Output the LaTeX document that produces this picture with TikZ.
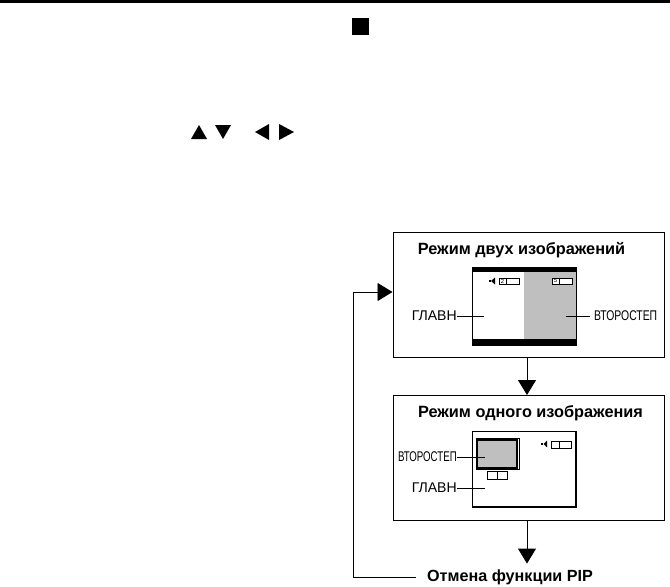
\documentclass[tikz,border=0pt]{standalone}
\usepackage{fontspec}
\setmainfont{Liberation Sans}
\newfontfamily\narrowfont[FakeStretch=0.74]{Liberation Sans}
\newfontfamily\narrowerfont[FakeStretch=0.69]{Liberation Sans}
\usetikzlibrary{arrows.meta}
\tikzset{
  modebox/.style={draw,line width=0.85pt,minimum width=8.13cm,minimum height=3.75cm,inner sep=0pt},
  titletext/.style={font=\fontsize{13.9}{16}\selectfont\bfseries,inner sep=0pt},
  partlabel/.style={font=\fontsize{12}{14}\selectfont,anchor=east,inner sep=0pt},
  narrowlabel/.style={font=\fontsize{12}{14}\selectfont\narrowfont,inner sep=0pt},
  narrowerlabel/.style={font=\fontsize{12}{14}\selectfont\narrowerfont,inner sep=0pt},
  digit/.style={font=\fontsize{5}{6}\selectfont,inner sep=0pt},
  leader/.style={line width=0.85pt},
  thinbox/.style={line width=0.7pt},
  modearrow/.style={line width=0.85pt,-{Triangle[length=0.45cm,width=0.54cm]}}
}
\begin{document}
\begin{tikzpicture}[x=0.03cm,y=-0.03cm]
   \useasboundingbox (0,0) rectangle (670,587);
   \fill (0,0) rectangle (670,2.6);
   \fill (352,18) rectangle (369,35);
   \fill (191,139) -- (207,139) -- (199,125) -- cycle;
   \fill (215,125) -- (231,125) -- (223,139) -- cycle;
   \fill (269,124) -- (269,140) -- (255,132) -- cycle;
   \fill (279,124) -- (279,140) -- (294,132) -- cycle;

   \node (dual) [modebox] at (528.5,294.5) {};
   \node (single) [modebox] at (528.5,458) {};
   \node (dualtitle) [titletext] at (521.5,250) {Режим двух изображений};
   \node (singletitle) [titletext] at (530.5,413) {Режим одного изображения};
   \node (cancel) [titletext,font=\fontsize{13.8}{16}\selectfont\bfseries,inner xsep=0.33cm,inner ysep=0.17cm] at (510,577) {Отмена функции PIP};
   \coordinate (loop) at (353,292);
   \draw[modearrow] ([xshift=-0.045cm]dual.south) -- ([xshift=-0.045cm]single.north);
   \draw[modearrow] ([xshift=-0.045cm]single.south) -- ([xshift=-0.045cm]single.south |- cancel.north);
   \draw[modearrow] (cancel.west) -| (loop) -- (dual.west |- loop);

   \fill[gray!50] (524,272) rectangle (576,339);
   \fill (472,267) rectangle (576,272);
   \fill (472,339) rectangle (576,345);
   \draw[thinbox] (472,267) rectangle (576,345);
   \fill (489,280) rectangle (491,282);
   \fill (495,277.5) -- (495,284.5) -- (491,281) -- cycle;
   \fill[white] (499,278) rectangle (519,284);
   \draw[thinbox] (499,278) rectangle (519,284);
   \draw[thinbox] (506,278) -- (506,284);
   \node (dualsound) [digit] at (502.5,281) {2};
   \fill[white] (552,278) rectangle (572,284);
   \draw[thinbox] (552,278) rectangle (572,284);
   \draw[thinbox] (559,278) -- (559,284);
   \node (dualsub) [digit] at (555.5,281) {5};
   \node (dualmain) [partlabel] at (457,316) {ГЛАВН};
   \coordinate (dualmainend) at (484,316);
   \draw[leader] (dualmain.east) -- (dualmainend);
   \node (dualsecond) [narrowlabel,anchor=west] at (594,316) {ВТОРОСТЕП};
   \coordinate (dualsecondend) at (566,316);
   \draw[leader] ([xshift=-0.12cm]dualsecond.west) -- (dualsecondend);

   \draw[line width=0.85pt] (472,431) rectangle (576,507);
   \draw[line width=1.7pt] (576,431) -- (576,507) -- (472,507);
   \draw[thinbox] (476,438) rectangle (519,469);
   \fill[gray!50] (477,440) rectangle (517,468);
   \draw[line width=1.3pt] (477,440) rectangle (517,468);
   \draw[thinbox] (487,471) rectangle (507,479);
   \draw[thinbox] (497,471) -- (497,479);
   \fill (541,443) rectangle (543,445);
   \fill (547,440.5) -- (547,447.5) -- (543.5,444) -- cycle;
   \draw[thinbox] (551,441) rectangle (571,448);
   \draw[thinbox] (559,441) -- (559,448);
   \node (singlesecond) [narrowerlabel,anchor=east] at (457,457) {ВТОРОСТЕП};
   \coordinate (singlesecondend) at (485,457);
   \draw[leader] (singlesecond.east) -- (singlesecondend);
   \node (singlemain) [partlabel] at (457,488) {ГЛАВН};
   \coordinate (singlemainend) at (485,488);
   \draw[leader] (singlemain.east) -- (singlemainend);
\end{tikzpicture}
\end{document}
